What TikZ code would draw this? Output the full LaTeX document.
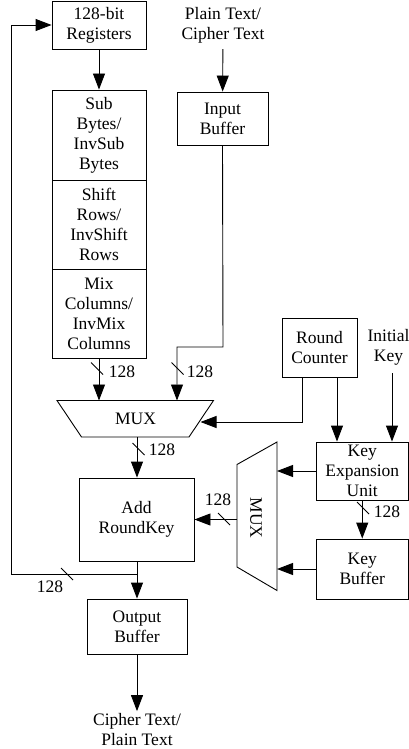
\documentclass[tikz,border=0pt]{standalone}
\usepackage{fontspec}
\setmainfont{Liberation Serif}
\usetikzlibrary{arrows.meta}
\tikzset{
  box/.style={draw, line width=0.9pt, inner sep=0pt, align=center},
  lbl/.style={inner sep=3pt, align=center},
  tlbl/.style={inner sep=0pt, align=center},
  arr/.style={line width=0.9pt, -{Triangle[length=16pt,width=12pt]}},
  wire/.style={line width=0.9pt},
  bus/.pic={\draw[line width=0.8pt] (-6,-6) -- (6,6);}
}
\begin{document}
\begin{tikzpicture}[x=1pt,y=-1pt,font=\fontsize{17.5}{20}\selectfont]
\useasboundingbox (0,0) rectangle (409,749);
% blocks
\node[box, minimum width=94pt, minimum height=48pt] (reg) at (99,25) {128-bit\\Registers};
\node[box, minimum width=94pt, minimum height=90pt] (sub) at (99,135) {Sub\\Bytes/\\InvSub\\Bytes};
\node[box, minimum width=94pt, minimum height=89pt] (shift) at (99,224.5) {Shift\\Rows/\\InvShift\\Rows};
\node[box, minimum width=94pt, minimum height=89pt] (mix) at (99,313.5) {Mix\\Columns/\\InvMix\\Columns};
\node[lbl] (ptext) at (223,25) {Plain Text/\\Cipher Text};
\node[box, minimum width=91pt, minimum height=53pt] (inbuf) at (222.5,118.5) {Input\\Buffer};
\node[box, minimum width=75pt, minimum height=59pt] (rc) at (319.5,347.5) {Round\\Counter};
\node[tlbl] (init) at (388.5,347) {Initial\\Key};
\node[box, minimum width=92.5pt, minimum height=58pt] (kexp) at (362.25,471) {Key\\Expansion\\Unit};
\node[box, minimum width=92.5pt, minimum height=60pt] (kbuf) at (362.25,569) {Key\\Buffer};
\node[box, minimum width=115pt, minimum height=83pt] (ark) at (136.5,519.5) {Add\\RoundKey};
\node[box, minimum width=100pt, minimum height=55pt] (obuf) at (137,626.5) {Output\\Buffer};
\node[tlbl] (outl) at (137,729.5) {Cipher Text/\\Plain Text};
% MUX 1
\draw[wire] (57,400.5) -- (213.5,400.5) -- (189,437) -- (81.5,437) -- cycle;
\node (mux) at (135.5,419) {MUX};
\coordinate (mi1) at (99,400.5);
\coordinate (mi2) at (177,400.5);
\coordinate (mr) at (200.5,422);
\coordinate (mo) at (137,437);
% MUX 2
\draw[wire] (277,442) -- (277,590.5) -- (237,567) -- (237,464.5) -- cycle;
\node[rotate=-90] (mux2) at (256,518) {MUX};
\coordinate (m2r) at (277,500);
\coordinate (m2l) at (237,500);
% connectors
\coordinate (jog) at (223,347);
\coordinate (fbj) at (137,574);
\coordinate (fbL) at (11,574);
\draw[arr] (reg) -- (sub);
\draw[arr, shorten <=3pt] (ptext) -- (inbuf);
\draw[arr] (inbuf.south) -- (jog) -| (mi2);
\draw[arr] (mix.south) -- (mi1);
\draw[arr] ([xshift=-17.5pt]rc.south) |- (mr);
\draw[arr] ([xshift=17.5pt]rc.south) -- ([xshift=17.5pt]rc.south |- kexp.north);
\draw[arr, shorten <=8pt] ([xshift=3.5pt]init.south) -- ([xshift=3.5pt]init.south |- kexp.north);
\draw[arr] (kexp.west) -- (kexp.west -| m2r);
\draw[arr] (kbuf.west) -- (kbuf.west -| m2r);
\draw[arr] (kexp) -- (kbuf);
\draw[arr] (ark.east -| m2l) -- (ark.east);
\draw[arr] (mo) -- (ark.north -| mo);
\draw[arr] (ark.south -| obuf) -- (obuf);
\draw[wire] (fbj) -- (fbL);
\draw[arr] (fbL) |- (reg.west);
\draw[arr, shorten >=2pt] (obuf) -- (outl);
% bus widths
\pic at (97,368.5) {bus};
\node[lbl] (b1) at (122,372) {128};
\pic at (177.5,368.5) {bus};
\node[lbl] (b2) at (200,372) {128};
\pic at (138.5,449) {bus};
\node[lbl] (b3) at (162,450) {128};
\pic at (224,519) {bus};
\node[lbl] (b4) at (218,500) {128};
\pic at (363,508) {bus};
\node[lbl] (b5) at (387,512) {128};
\pic at (67,574) {bus};
\node[lbl] (b6) at (50,587) {128};
\end{tikzpicture}
\end{document}
